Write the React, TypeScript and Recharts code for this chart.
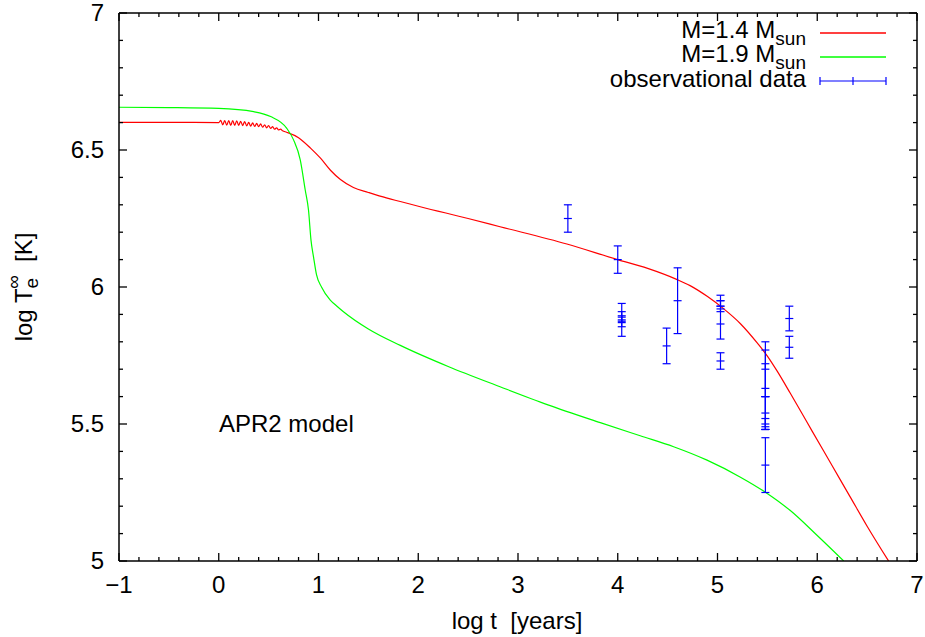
import React from "react";
import {
  ComposedChart,
  Line,
  Scatter,
  ErrorBar,
  XAxis,
  YAxis,
  Customized,
} from "recharts";

// log t [years] -> log Te [K], M = 1.4 Msun (oscillating part near t~0 kept as read)
const curve14 = [
  { x: -1, y: 6.601 },
  { x: -0.5, y: 6.601 },
  { x: 0.0, y: 6.6 },
  { x: 0.02, y: 6.608 },
  { x: 0.04, y: 6.592 },
  { x: 0.06, y: 6.607 },
  { x: 0.08, y: 6.591 },
  { x: 0.1, y: 6.607 },
  { x: 0.12, y: 6.59 },
  { x: 0.14, y: 6.607 },
  { x: 0.16, y: 6.59 },
  { x: 0.18, y: 6.606 },
  { x: 0.2, y: 6.59 },
  { x: 0.22, y: 6.605 },
  { x: 0.24, y: 6.589 },
  { x: 0.26, y: 6.604 },
  { x: 0.28, y: 6.588 },
  { x: 0.3, y: 6.601 },
  { x: 0.32, y: 6.587 },
  { x: 0.34, y: 6.599 },
  { x: 0.36, y: 6.586 },
  { x: 0.38, y: 6.597 },
  { x: 0.4, y: 6.585 },
  { x: 0.42, y: 6.595 },
  { x: 0.44, y: 6.583 },
  { x: 0.46, y: 6.592 },
  { x: 0.48, y: 6.581 },
  { x: 0.5, y: 6.589 },
  { x: 0.52, y: 6.579 },
  { x: 0.54, y: 6.585 },
  { x: 0.56, y: 6.576 },
  { x: 0.58, y: 6.581 },
  { x: 0.6, y: 6.573 },
  { x: 0.62, y: 6.576 },
  { x: 0.64, y: 6.57 },
  { x: 0.68, y: 6.565 },
  { x: 0.8, y: 6.545 },
  { x: 0.92, y: 6.507 },
  { x: 1.02, y: 6.47 },
  { x: 1.12, y: 6.426 },
  { x: 1.22, y: 6.392 },
  { x: 1.35, y: 6.363 },
  { x: 1.5, y: 6.345 },
  { x: 1.68, y: 6.325 },
  { x: 1.82, y: 6.312 },
  { x: 2.02, y: 6.293 },
  { x: 2.5, y: 6.25 },
  { x: 2.82, y: 6.22 },
  { x: 3.49, y: 6.157 },
  { x: 3.99, y: 6.101 },
  { x: 4.3, y: 6.068 },
  { x: 4.59, y: 6.028 },
  { x: 4.725, y: 6.005 },
  { x: 4.9, y: 5.965 },
  { x: 5.06, y: 5.921 },
  { x: 5.23, y: 5.866 },
  { x: 5.4, y: 5.795 },
  { x: 5.5, y: 5.748 },
  { x: 5.6, y: 5.692 },
  { x: 5.73, y: 5.612 },
  { x: 5.895, y: 5.508 },
  { x: 6.06, y: 5.404 },
  { x: 6.23, y: 5.297 },
  { x: 6.33, y: 5.234 },
  { x: 6.5, y: 5.127 },
  { x: 6.715, y: 5.0 },
];

// M = 1.9 Msun
const curve19 = [
  { x: -1, y: 6.656 },
  { x: -0.5, y: 6.655 },
  { x: 0.0, y: 6.652 },
  { x: 0.35, y: 6.64 },
  { x: 0.52, y: 6.622 },
  { x: 0.68, y: 6.58 },
  { x: 0.75, y: 6.537 },
  { x: 0.817, y: 6.464 },
  { x: 0.867, y: 6.354 },
  { x: 0.9, y: 6.28 },
  { x: 0.925, y: 6.17 },
  { x: 0.95, y: 6.11 },
  { x: 0.98, y: 6.045 },
  { x: 1.03, y: 6.0 },
  { x: 1.118, y: 5.952 },
  { x: 1.185, y: 5.93 },
  { x: 1.25, y: 5.91 },
  { x: 1.5, y: 5.847 },
  { x: 1.82, y: 5.787 },
  { x: 2.3, y: 5.71 },
  { x: 2.82, y: 5.636 },
  { x: 3.3, y: 5.57 },
  { x: 3.825, y: 5.505 },
  { x: 4.225, y: 5.457 },
  { x: 4.56, y: 5.417 },
  { x: 4.895, y: 5.368 },
  { x: 5.23, y: 5.306 },
  { x: 5.48, y: 5.251 },
  { x: 5.73, y: 5.184 },
  { x: 6.0, y: 5.093 },
  { x: 6.265, y: 5.0 },
];

// observational data: log t, log Te, error
const obsT = [3.5, 4.0, 4.04, 4.04, 4.04, 4.49, 4.6, 5.03, 5.03, 5.03, 5.03, 5.48, 5.48, 5.48, 5.48, 5.48, 5.48, 5.72, 5.72];
const obsTe = [6.25, 6.1, 5.88, 5.89, 5.875, 5.785, 5.95, 5.95, 5.93, 5.865, 5.73, 5.7, 5.63, 5.6, 5.54, 5.5, 5.35, 5.885, 5.78];
const obsErr = [0.05, 0.05, 0.06, 0.02, 0.02, 0.065, 0.12, 0.02, 0.02, 0.055, 0.03, 0.1, 0.14, 0.12, 0.06, 0.02, 0.1, 0.045, 0.04];

const obs = obsT.map((x, i) => ({ x, y: obsTe[i], err: obsErr[i] }));

const xMajorTicks = [-1, 0, 1, 2, 3, 4, 5, 6, 7];
const yMajorTicks = [5, 5.5, 6, 6.5, 7];
const xTicks = Array.from({ length: 41 }, (_, i) => Math.round((-1 + i * 0.2) * 10) / 10);
const yTicks = Array.from({ length: 21 }, (_, i) => Math.round((5 + i * 0.1) * 10) / 10);

const FONT = "'Liberation Sans', Arial, Helvetica, sans-serif";
const FS = 24;
const SUB = 19;

const isIn = (arr: number[], v: number) => arr.some((m) => Math.abs(m - v) < 1e-6);
const fmt = (v: number) => (v < 0 ? "\u2212" + Math.abs(v) : String(v));

const BottomTick = (p: any) => {
  const v = p.payload.value;
  const major = isIn(xMajorTicks, v);
  return (
    <g>
      <line x1={p.x} x2={p.x} y1={p.y} y2={p.y - (major ? 8 : 4)} stroke="#000" strokeWidth={1.3} />
      {major && (
        <text x={p.x} y={p.y + 32} textAnchor="middle" fontFamily={FONT} fontSize={FS} fill="#000">
          {fmt(v)}
        </text>
      )}
    </g>
  );
};

const TopTick = (p: any) => {
  const major = isIn(xMajorTicks, p.payload.value);
  return <line x1={p.x} x2={p.x} y1={p.y} y2={p.y + (major ? 8 : 4)} stroke="#000" strokeWidth={1.3} />;
};

const LeftTick = (p: any) => {
  const v = p.payload.value;
  const major = isIn(yMajorTicks, v);
  return (
    <g>
      <line x1={p.x} x2={p.x + (major ? 8 : 4)} y1={p.y} y2={p.y} stroke="#000" strokeWidth={1.3} />
      {major && (
        <text x={p.x - 15} y={p.y + 8} textAnchor="end" fontFamily={FONT} fontSize={FS} fill="#000">
          {fmt(v)}
        </text>
      )}
    </g>
  );
};

const RightTick = (p: any) => {
  const major = isIn(yMajorTicks, p.payload.value);
  return <line x1={p.x} x2={p.x - (major ? 8 : 4)} y1={p.y} y2={p.y} stroke="#000" strokeWidth={1.3} />;
};

const PlusMark = (p: any) => (
  <line x1={p.cx - 4} x2={p.cx + 4} y1={p.cy} y2={p.cy} stroke="#0000ff" strokeWidth={1.2} />
);

const Annotations = () => (
  <g fontFamily={FONT}>
    {/* legend */}
    <text x={806} y={38} textAnchor="end" fontSize={FS} fill="#000">
      M=1.4 M<tspan fontSize={SUB} dy={7}>sun</tspan>
    </text>
    <g stroke="#ff0000" strokeWidth={1.5} fill="none">
      <line x1={820} x2={886} y1={33} y2={33} />
    </g>
    <text x={806} y={62} textAnchor="end" fontSize={FS} fill="#000">
      M=1.9 M<tspan fontSize={SUB} dy={7}>sun</tspan>
    </text>
    <g stroke="#00ff00" strokeWidth={1.5} fill="none">
      <line x1={820} x2={886} y1={57} y2={57} />
    </g>
    <text x={806} y={87} textAnchor="end" fontSize={FS} fill="#000">
      observational data
    </text>
    <g stroke="#0000ff" strokeWidth={1.2} fill="none">
      <line x1={820} x2={886} y1={81} y2={81} />
      <line x1={820} x2={820} y1={77} y2={85} />
      <line x1={886} x2={886} y1={77} y2={85} />
      <line x1={853} x2={853} y1={77} y2={85} />
    </g>
    {/* model name */}
    <text x={219} y={432} fontSize={FS} fill="#000">
      APR2 model
    </text>
    {/* axis titles */}
    <text x={517} y={629} textAnchor="middle" fontSize={FS} fill="#000">
      {"log t\u00a0\u00a0[years]"}
    </text>
    <text x={0} y={0} textAnchor="middle" fontSize={FS} fill="#000" transform="translate(32,287) rotate(-90)">
      log T<tspan fontSize={SUB} dy={6}>e</tspan>
      <tspan fontSize={SUB} dx={-11} dy={-18}>{"\u221e"}</tspan>
      <tspan dy={12}>{"\u00a0\u00a0[K]"}</tspan>
    </text>
  </g>
);

export default function App() {
  return (
    <div style={{ position: "absolute", left: 0, top: 0, width: 925, height: 637, background: "#fff" }}>
      <ComposedChart width={925} height={637} margin={{ top: 0, right: 0, bottom: 46, left: 59 }}>
        <XAxis
          xAxisId="b"
          dataKey="x"
          type="number"
          orientation="bottom"
          domain={[-1, 7]}
          allowDataOverflow
          ticks={xTicks}
          interval={0}
          height={30}
          tickLine={false}
          tickSize={0}
          tickMargin={0}
          axisLine={{ stroke: "#000", strokeWidth: 1.5 }}
          tick={<BottomTick />}
        />
        <XAxis
          xAxisId="t"
          dataKey="x"
          type="number"
          orientation="top"
          domain={[-1, 7]}
          allowDataOverflow
          ticks={xTicks}
          interval={0}
          height={13}
          tickLine={false}
          tickSize={0}
          tickMargin={0}
          axisLine={{ stroke: "#000", strokeWidth: 1.5 }}
          tick={<TopTick />}
        />
        <YAxis
          yAxisId="l"
          type="number"
          orientation="left"
          domain={[5, 7]}
          allowDataOverflow
          ticks={yTicks}
          interval={0}
          width={60}
          tickLine={false}
          tickSize={0}
          tickMargin={0}
          axisLine={{ stroke: "#000", strokeWidth: 1.5 }}
          tick={<LeftTick />}
        />
        <YAxis
          yAxisId="r"
          type="number"
          orientation="right"
          domain={[5, 7]}
          allowDataOverflow
          ticks={yTicks}
          interval={0}
          width={8}
          tickLine={false}
          tickSize={0}
          tickMargin={0}
          axisLine={{ stroke: "#000", strokeWidth: 1.5 }}
          tick={<RightTick />}
        />
        <Line
          xAxisId="t"
          yAxisId="r"
          data={curve19}
          dataKey="y"
          stroke="none"
          dot={false}
          legendType="none"
          isAnimationActive={false}
        />
        <Line
          xAxisId="b"
          yAxisId="l"
          data={curve14}
          dataKey="y"
          type="monotone"
          stroke="#ff0000"
          strokeWidth={1.2}
          dot={false}
          isAnimationActive={false}
        />
        <Line
          xAxisId="b"
          yAxisId="l"
          data={curve19}
          dataKey="y"
          type="monotone"
          stroke="#00ff00"
          strokeWidth={1.2}
          dot={false}
          isAnimationActive={false}
        />
        <Scatter
          xAxisId="b"
          yAxisId="l"
          data={obs}
          dataKey="y"
          shape={<PlusMark />}
          isAnimationActive={false}
        >
          <ErrorBar dataKey="err" direction="y" width={4} stroke="#0000ff" strokeWidth={1.2} isAnimationActive={false} />
        </Scatter>
        <Customized component={<Annotations />} />
      </ComposedChart>
    </div>
  );
}
